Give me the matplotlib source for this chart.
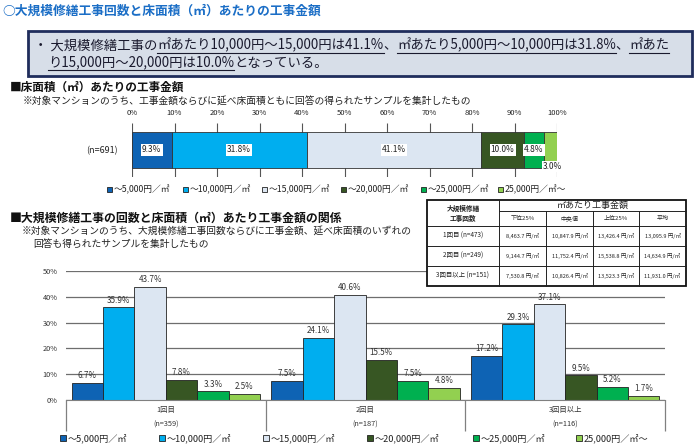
import matplotlib
matplotlib.use('Agg')
import matplotlib.pyplot as plt
from matplotlib.patches import Rectangle

plt.rcParams['font.family'] = ['Noto Sans CJK JP', 'DejaVu Sans']

W, H = 700, 448

# ---------------- data ----------------
price_bands = ['～5,000円／㎡', '～10,000円／㎡', '～15,000円／㎡',
               '～20,000円／㎡', '～25,000円／㎡', '25,000円／㎡～']
band_colors = ['#0E63B4', '#00AEEF', '#DCE6F2', '#375623', '#00B050', '#92D050']

overall_label = '(n=691)'
overall_share = [9.3, 31.8, 41.1, 10.0, 4.8, 3.0]
overall_ticks = [0, 10, 20, 30, 40, 50, 60, 70, 80, 90, 100]

rounds = ['1回目', '2回目', '3回目以上']
rounds_n = ['(n=359)', '(n=187)', '(n=116)']
share_round1 = [6.7, 35.9, 43.7, 7.8, 3.3, 2.5]
share_round2 = [7.5, 24.1, 40.6, 15.5, 7.5, 4.8]
share_round3 = [17.2, 29.3, 37.1, 9.5, 5.2, 1.7]
round_yticks = [0, 10, 20, 30, 40, 50]

table_rows = ['1回目 (n=473)', '2回目 (n=249)', '3回目以上 (n=151)']
table_cols = ['下位25%', '中央値', '上位25%', '平均']
cost_lower25 = [8463.7, 9144.7, 7530.8]
cost_median = [10847.9, 11752.4, 10826.4]
cost_upper25 = [13426.4, 15538.8, 13523.3]
cost_mean = [13095.9, 14634.9, 11931.0]

title = '○大規模修繕工事回数と床面積（㎡）あたりの工事金額'
summary_line1 = [('・ 大規模修繕工事の', False), ('㎡あたり10,000円～15,000円は41.1%', True), ('、', False),
                 ('㎡あたり5,000円～10,000円は31.8%', True), ('、', False), ('㎡あた', True)]
summary_line2 = [('り15,000円～20,000円は10.0%', True), ('となっている。', False)]
heading1 = '■床面積（㎡）あたりの工事金額'
note1 = '※対象マンションのうち、工事金額ならびに延べ床面積ともに回答の得られたサンプルを集計したもの'
heading2 = '■大規模修繕工事の回数と床面積（㎡）あたり工事金額の関係'
note2a = '※対象マンションのうち、大規模修繕工事回数ならびに工事金額、延べ床面積のいずれの'
note2b = '回答も得られたサンプルを集計したもの'

# ---------------- figure ----------------
fig = plt.figure(figsize=(W / 100, H / 100), dpi=100)
fig.patch.set_facecolor('white')


def px_axes(x0, y0, x1, y1, **kw):
    return fig.add_axes([x0 / W, 1 - y1 / H, (x1 - x0) / W, (y1 - y0) / H], **kw)


ov = px_axes(0, 0, W, H, zorder=5)
ov.set_xlim(0, W)
ov.set_ylim(H, 0)
ov.axis('off')
ov.patch.set_alpha(0)

# title
ov.text(2, 11, title, fontsize=9.2, weight='bold', color='#1B6EC6', va='center', ha='left')

# summary box
ov.add_patch(Rectangle((28, 31), 664, 45, fc='#D7DEE8', ec='#1F2D5C', lw=2))
renderer = fig.canvas.get_renderer()


def draw_segments(segs, x, y, size):
    for s, ul in segs:
        t = ov.text(x, y, s, fontsize=size, color='#1A1A2E', va='center', ha='left')
        bb = t.get_window_extent(renderer)
        if ul:
            ov.plot([x, x + bb.width], [y + 7.5, y + 7.5], color='#1A1A2E', lw=0.8)
        x += bb.width
    return x


draw_segments(summary_line1, 34, 45.5, 9.6)
draw_segments(summary_line2, 48, 62.5, 9.6)

# headings & notes
ov.text(10, 87, heading1, fontsize=8.4, weight='bold', color='#111111', va='center')
ov.text(23, 102, note1, fontsize=7.0, color='#222222', va='center')
ov.text(10, 218, heading2, fontsize=8.6, weight='bold', color='#111111', va='center')
ov.text(22, 231, note2a, fontsize=7.0, color='#222222', va='center')
ov.text(33, 244, note2b, fontsize=7.0, color='#222222', va='center')

# ---------------- top stacked bar ----------------
ax1 = px_axes(132, 123, 557, 177)
ax1.set_xlim(0, 100)
ax1.set_ylim(-0.73, 0.73)
ax1.vlines(overall_ticks, -0.73, 0.73, color='#555555', lw=0.8, zorder=0)
left = 0
for i, v in enumerate(overall_share):
    c = ax1.barh([0], [v], left=left, height=1.0, color=band_colors[i],
                 edgecolor='#333333', lw=0.6, zorder=2)
    if i < len(overall_share) - 1:
        ax1.bar_label(c, labels=[f'{v:.1f}%'], label_type='center', fontsize=6,
                      color='#222222', bbox=dict(fc='white', ec='none', pad=0.8), zorder=3)
    else:
        ax1.annotate(f'{v:.1f}%', xy=(left + v / 2, 0), xytext=(1, -12), textcoords='offset points',
                     ha='center', va='center', fontsize=6, color='#222222',
                     bbox=dict(fc='white', ec='none', pad=0.5), zorder=3)
    left += v
ax1.set_xticks(overall_ticks)
ax1.set_xticklabels([f'{t}%' for t in overall_ticks], fontsize=5.5, color='#222222')
ax1.xaxis.set_ticks_position('top')
ax1.tick_params(axis='x', length=0, pad=4)
ax1.set_yticks([0])
ax1.set_yticklabels([overall_label], fontsize=6.5, color='#222222')
ax1.tick_params(axis='y', length=0, pad=10)
for s in ax1.spines.values():
    s.set_visible(False)
ax1.patch.set_alpha(0)

# top legend
leg1_x = [107, 183, 262, 341, 421, 498]
for i, lab in enumerate(price_bands):
    ov.add_patch(Rectangle((leg1_x[i], 187.5), 5, 5, fc=band_colors[i], ec='#222222', lw=0.6))
    ov.text(leg1_x[i] + 7, 190, lab, fontsize=6.3, color='#222222', va='center')

# ---------------- grouped bars ----------------
ax2 = px_axes(66, 271, 665, 400)
ax2.set_xlim(0, 3)
ax2.set_ylim(0, 50)
groups = [share_round1, share_round2, share_round3]
bw = 0.157
for i in range(6):
    xs = [g + 0.5 + (i - 2.5) * bw for g in range(3)]
    vals = [grp[i] for grp in groups]
    c = ax2.bar(xs, vals, width=bw, color=band_colors[i], edgecolor='#222222', lw=0.6, zorder=2)
    ax2.bar_label(c, labels=[f'{v:.1f}%' for v in vals], padding=2, fontsize=5.8, color='#333333')
ax2.set_yticks(round_yticks)
ax2.set_yticklabels([f'{t}%' for t in round_yticks], fontsize=5.3, color='#333333')
ax2.tick_params(axis='y', length=0, pad=6)
ax2.set_xticks([])
ax2.yaxis.grid(True, color='#6E6E6E', lw=0.9)
ax2.set_axisbelow(True)
for k in ['left', 'right', 'top']:
    ax2.spines[k].set_visible(False)
ax2.spines['bottom'].set_color('#808080')
ax2.vlines([0, 1, 2, 3], -12.2, 0, color='#808080', lw=0.9, clip_on=False)
for g in range(3):
    ax2.text(g + 0.5, -3.9, rounds[g], ha='center', va='center', fontsize=5.3, color='#333333')
    ax2.text(g + 0.5, -9.7, rounds_n[g], ha='center', va='center', fontsize=5.3, color='#333333')

# bottom legend
leg2_x = [60, 159, 263, 367, 473, 576]
for i, lab in enumerate(price_bands):
    ov.add_patch(Rectangle((leg2_x[i], 435.3), 5.5, 5.5, fc=band_colors[i], ec='#222222', lw=0.6))
    ov.text(leg2_x[i] + 8, 438, lab, fontsize=6.6, color='#222222', va='center')

# ---------------- table ----------------
col_x = [427, 499, 546, 593, 639, 686]
row_y = [200, 211, 226, 246, 266, 286]
ov.add_patch(Rectangle((col_x[0], row_y[0]), col_x[-1] - col_x[0], row_y[-1] - row_y[0],
                       fc='white', ec='#111111', lw=1.3, zorder=6))
lkw = dict(color='#222222', lw=0.7, zorder=7)
ov.plot([col_x[1], col_x[-1]], [row_y[1], row_y[1]], **lkw)
for yy in row_y[2:-1]:
    ov.plot([col_x[0], col_x[-1]], [yy, yy], **lkw)
ov.plot([col_x[1], col_x[1]], [row_y[0], row_y[-1]], **lkw)
for xx in col_x[2:-1]:
    ov.plot([xx, xx], [row_y[1], row_y[-1]], **lkw)
tkw = dict(ha='center', va='center', color='#222222', zorder=8)
ov.text((col_x[0] + col_x[1]) / 2, 208.5, '大規模修繕', fontsize=4.8, weight='bold', **tkw)
ov.text((col_x[0] + col_x[1]) / 2, 218.5, '工事回数', fontsize=4.8, weight='bold', **tkw)
ov.text((col_x[1] + col_x[-1]) / 2, 205.5, '㎡あたり工事金額', fontsize=6.5, **tkw)
for j, cname in enumerate(table_cols):
    ov.text((col_x[j + 1] + col_x[j + 2]) / 2, 218.5, cname, fontsize=4.3, **tkw)
cols_vals = [cost_lower25, cost_median, cost_upper25, cost_mean]
for r, rname in enumerate(table_rows):
    yc = (row_y[r + 2] + row_y[r + 3]) / 2
    ov.text((col_x[0] + col_x[1]) / 2, yc, rname, fontsize=4.6, **tkw)
    for j in range(4):
        ov.text((col_x[j + 1] + col_x[j + 2]) / 2, yc, f'{cols_vals[j][r]:,.1f} 円/㎡', fontsize=4.0, **tkw)

fig.savefig('out.png', dpi=100, facecolor='white')
